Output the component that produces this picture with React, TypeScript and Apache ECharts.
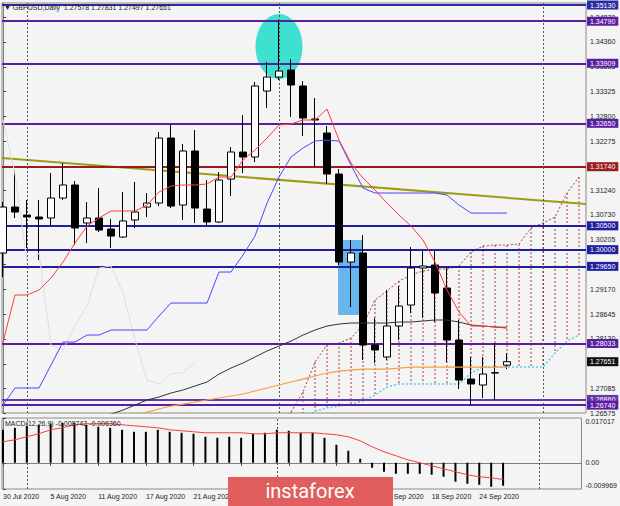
import React, { useEffect, useRef } from "react";
import * as echarts from "echarts";

const dates = [
  "30 Jul 2020", "31 Jul 2020", "3 Aug 2020", "4 Aug 2020", "5 Aug 2020", "6 Aug 2020", "7 Aug 2020",
  "10 Aug 2020", "11 Aug 2020", "12 Aug 2020", "13 Aug 2020", "14 Aug 2020", "17 Aug 2020", "18 Aug 2020",
  "19 Aug 2020", "20 Aug 2020", "21 Aug 2020", "24 Aug 2020", "25 Aug 2020", "26 Aug 2020", "27 Aug 2020",
  "28 Aug 2020", "31 Aug 2020", "1 Sep 2020", "2 Sep 2020", "3 Sep 2020", "4 Sep 2020", "7 Sep 2020",
  "8 Sep 2020", "9 Sep 2020", "10 Sep 2020", "11 Sep 2020", "14 Sep 2020", "15 Sep 2020", "16 Sep 2020",
  "17 Sep 2020", "18 Sep 2020", "21 Sep 2020", "22 Sep 2020", "23 Sep 2020", "24 Sep 2020", "25 Sep 2020",
  "28 Sep 2020",
];

const opens = [1.2993, 1.30894, 1.30726, 1.30685, 1.30664, 1.31083, 1.31356, 1.30559, 1.30664, 1.30433, 1.30265, 1.30622, 1.30894, 1.30978, 1.32341, 1.30936, 1.32069, 1.30852, 1.3058, 1.31481, 1.32048, 1.31943, 1.33327, 1.3362, 1.33767, 1.33432, 1.3274, 1.32446, 1.31586, 1.29741, 1.2993, 1.28, 1.27749, 1.28399, 1.28839, 1.29615, 1.29678, 1.29196, 1.28105, 1.27287, 1.27162, 1.27413, 1.27578];
const closes = [1.30894, 1.30789, 1.30685, 1.30643, 1.31083, 1.31356, 1.30454, 1.30664, 1.30412, 1.30286, 1.30601, 1.30789, 1.30978, 1.32341, 1.30915, 1.32069, 1.30873, 1.3058, 1.3146, 1.32048, 1.31943, 1.33432, 1.3362, 1.33746, 1.33453, 1.32761, 1.32719, 1.31586, 1.29741, 1.2993, 1.28, 1.27896, 1.28399, 1.28818, 1.29615, 1.29657, 1.29091, 1.28105, 1.27266, 1.27183, 1.27392, 1.2742, 1.27651];
const lows = [1.29426, 1.30664, 1.30034, 1.29783, 1.30496, 1.31041, 1.30097, 1.30139, 1.3037, 1.30034, 1.30244, 1.30454, 1.30685, 1.30915, 1.30873, 1.30622, 1.30559, 1.30496, 1.30559, 1.31125, 1.31607, 1.31838, 1.3297, 1.33557, 1.32782, 1.32383, 1.31733, 1.31377, 1.29678, 1.28797, 1.27686, 1.27623, 1.27686, 1.28105, 1.28671, 1.28567, 1.28483, 1.27644, 1.27078, 1.26742, 1.26889, 1.26847, 1.27497];
const highs = [1.30999, 1.3167, 1.31041, 1.31041, 1.31607, 1.31817, 1.31439, 1.30999, 1.31293, 1.30643, 1.31209, 1.31419, 1.31188, 1.32467, 1.32614, 1.32215, 1.32509, 1.3146, 1.31628, 1.32152, 1.32823, 1.33515, 1.33935, 1.34816, 1.33998, 1.33536, 1.3318, 1.32593, 1.31691, 1.30202, 1.30307, 1.28567, 1.29154, 1.29238, 1.30055, 1.29972, 1.29972, 1.29636, 1.28525, 1.27749, 1.27749, 1.28042, 1.27831];

const tenkan = [1.28063, 1.29049, 1.29049, 1.29154, 1.29405, 1.29741, 1.30139, 1.30496, 1.30664, 1.3081, 1.3081, 1.3081, 1.30936, 1.31209, 1.31335, 1.31356, 1.31356, 1.31377, 1.31523, 1.31523, 1.3188, 1.3209, 1.32341, 1.32614, 1.32635, 1.32719, 1.32719, 1.32949, 1.32299, 1.31817, 1.31502, 1.31251, 1.30978, 1.30726, 1.30496, 1.30202, 1.29741, 1.29154, 1.28692, 1.28399, 1.28399, 1.28378, 1.28378];
const kijun = [1.26742, 1.27099, 1.27099, 1.27099, 1.27581, 1.28063, 1.28063, 1.2821, 1.2821, 1.28315, 1.28315, 1.28315, 1.28315, 1.28609, 1.28881, 1.28881, 1.28881, 1.28881, 1.29531, 1.29531, 1.29888, 1.30286, 1.30978, 1.31523, 1.31943, 1.32131, 1.32278, 1.32299, 1.32278, 1.31775, 1.31293, 1.31188, 1.31188, 1.31188, 1.31188, 1.31188, 1.31188, 1.31146, 1.30936, 1.30768, 1.30768, 1.30768, 1.30768];
const smaBlack = [null, null, null, null, null, null, null, null, 1.26449, 1.26553, 1.26637, 1.26742, 1.26847, 1.2691, 1.26994, 1.27057, 1.27141, 1.27225, 1.27392, 1.27518, 1.27623, 1.27749, 1.27875, 1.27979, 1.28084, 1.2821, 1.28315, 1.28399, 1.28441, 1.28462, 1.28462, 1.28462, 1.28462, 1.28483, 1.28483, 1.28504, 1.28525, 1.28525, 1.28483, 1.2842, 1.28399, 1.28378, 1.28357];
const smaOrange = [null, null, null, null, null, null, null, null, null, null, 1.2647, 1.26532, 1.26595, 1.26658, 1.26721, 1.26763, 1.26805, 1.26847, 1.26889, 1.26931, 1.26973, 1.27036, 1.27099, 1.27162, 1.27225, 1.27287, 1.2735, 1.27413, 1.27455, 1.27476, 1.27497, 1.27497, 1.27497, 1.27518, 1.27539, 1.27539, 1.27539, 1.27539, 1.27539, 1.27539, 1.27539, 1.27539, 1.27539];

const cloudStart = 24;
const spanA = [1.26595, 1.27015, 1.27644, 1.28, 1.28042, 1.28147, 1.2842, 1.28944, 1.29133, 1.29342, 1.29468, 1.29552, 1.29594, 1.29594, 1.29657, 1.29951, 1.30076, 1.30097, 1.30097, 1.30118, 1.30454, 1.30559, 1.30685, 1.31188, 1.31523];
const spanB = [1.26323, 1.26428, 1.26616, 1.26679, 1.26721, 1.26763, 1.26826, 1.26952, 1.2712, 1.27183, 1.27183, 1.27183, 1.27183, 1.27183, 1.27183, 1.27413, 1.27539, 1.27539, 1.27539, 1.27539, 1.27539, 1.27539, 1.27833, 1.28084, 1.2821];

const macdHist = [0.01254, 0.0133, 0.01406, 0.01444, 0.01482, 0.0152, 0.0152, 0.01444, 0.01368, 0.0133, 0.01254, 0.01178, 0.01178, 0.01254, 0.01178, 0.0114, 0.01102, 0.00988, 0.0095, 0.00988, 0.0095, 0.01102, 0.0114, 0.01254, 0.01216, 0.0114, 0.0114, 0.0095, 0.00684, 0.00456, 0.00152, -0.0019, -0.00342, -0.00418, -0.00418, -0.00418, -0.00456, -0.00532, -0.00722, -0.00798, -0.00836, -0.00912, -0.008742];
const macdSignal = [0.00798, 0.00874, 0.00988, 0.01102, 0.01254, 0.0133, 0.01444, 0.01482, 0.01482, 0.01482, 0.01444, 0.01406, 0.01368, 0.0133, 0.01254, 0.01216, 0.01178, 0.0114, 0.0114, 0.0114, 0.0114, 0.01102, 0.01102, 0.0114, 0.0114, 0.0114, 0.0114, 0.01102, 0.01064, 0.00988, 0.00836, 0.00608, 0.00418, 0.00266, 0.00114, 0, -0.00114, -0.00228, -0.00342, -0.00456, -0.00532, -0.0057, -0.00636];

const priceTicks = [1.26575, 1.27085, 1.27605, 1.2813, 1.28645, 1.2917, 1.2969, 1.30205, 1.3073, 1.3124, 1.31755, 1.32275, 1.328, 1.33325, 1.33835, 1.3436, 1.3487];
const priceLabels = [1.26575, 1.27085, 1.2813, 1.28645, 1.2917, 1.30205, 1.3073, 1.3124, 1.32275, 1.328, 1.33325, 1.33835, 1.3436, 1.3487];
const macdTicks = [-0.009969, 0, 0.017017];
const dateTickIdx = [0, 4, 8, 12, 16, 20, 24, 28, 32, 36, 40];
const dateLabelIdx = [0, 4, 8, 12, 16, 32, 36, 40];
const monthSeparators = [2, 23, 45];

const levelValues = [1.3513, 1.3479, 1.33909, 1.3265, 1.3174, 1.305, 1.3, 1.2965, 1.28033, 1.2686, 1.2674];
const levelColors = ["#2a2aa4", "#5a1f9e", "#5a1f9e", "#5a1f9e", "#9b1c1c", "#1f1fa0", "#1f1fa0", "#1f1fa0", "#5a1f9e", "#6a36ac", "#5a1f9e"];
const trendLine = [1.31922, 1.30957];
const highlightPoint = [23, 1.3426];
const zoneBox = [27.92, 1.30202, 30.0, 1.28629];

const FONT = "'Liberation Sans', Arial, sans-serif";

export default function App() {
  const ref = useRef<HTMLDivElement>(null);
  useEffect(() => {
    const chart = echarts.init(ref.current!, null, { renderer: "svg" });
    const xMin = -1 / 12;
    const xMax = 48 + 7 / 12;
    const yMin = 1.26575;
    const yMax = 1.351727;
    const pts = (arr: (number | null)[], start = 0) =>
      arr.map((v, i) => (v == null ? null : [start + i, v])).filter((p) => p !== null);
    const last = closes.length - 1;

    const sepLine = {
      silent: true,
      symbol: ["none", "none"],
      precision: 5,
      label: { show: false },
      lineStyle: { color: "#555", width: 1, type: [2, 2] },
      data: monthSeparators.map((x) => ({ xAxis: x })),
    };

    const levelMarks: any[] = levelValues.map((v, k) => ({
      yAxis: v,
      lineStyle: { color: levelColors[k], width: 2, type: "solid" },
      label: {
        show: true,
        position: "end",
        formatter: v.toFixed(5),
        backgroundColor: levelColors[k],
        color: "#fff",
        fontSize: 7,
        fontFamily: FONT,
        padding: [1, 3, 1, 3],
        distance: 1,
      },
    }));
    levelMarks.push({
      yAxis: closes[last],
      lineStyle: { color: "rgba(0,0,0,0)", width: 0 },
      label: {
        show: true,
        position: "end",
        formatter: closes[last].toFixed(5),
        backgroundColor: "#111",
        color: "#fff",
        fontSize: 7,
        fontFamily: FONT,
        padding: [1, 3, 1, 3],
        distance: 1,
      },
    });

    const option: any = {
      animation: false,
      backgroundColor: "#f4f4f4",
      textStyle: { fontFamily: FONT },
      grid: [
        { left: 2, top: 3, width: 584, height: 410, show: true, borderColor: "#8a8a8a", borderWidth: 1, backgroundColor: "transparent" },
        { left: 2, top: 418, width: 584, height: 71, show: true, borderColor: "#8a8a8a", borderWidth: 1, backgroundColor: "transparent" },
      ],
      xAxis: [
        {
          type: "value", gridIndex: 0, min: xMin, max: xMax,
          axisLine: { show: false }, axisTick: { show: false }, axisLabel: { show: false }, splitLine: { show: false },
        },
        {
          type: "value", gridIndex: 1, min: xMin, max: xMax,
          axisLine: { show: true, lineStyle: { color: "#808080" } },
          axisTick: { show: true, customValues: dateTickIdx, length: 3, lineStyle: { color: "#444" } },
          axisLabel: {
            show: true, customValues: dateLabelIdx, formatter: (v: number) => dates[Math.round(v)],
            align: "left", fontSize: 7, color: "#222", margin: 4, fontFamily: FONT,
          },
          splitLine: { show: false },
        },
      ],
      yAxis: [
        {
          type: "value", gridIndex: 0, position: "right", min: yMin, max: yMax,
          axisLine: { show: true, lineStyle: { color: "#808080" } },
          axisTick: { show: true, customValues: priceTicks, length: 3, lineStyle: { color: "#444" } },
          axisLabel: { show: true, customValues: priceLabels, formatter: (v: number) => v.toFixed(5), fontSize: 7, color: "#222", margin: 4, fontFamily: FONT },
          splitLine: { show: false },
        },
        {
          type: "value", gridIndex: 1, position: "right", min: -0.009969, max: 0.017017,
          axisLine: { show: true, lineStyle: { color: "#808080" } },
          axisTick: { show: true, customValues: macdTicks, length: 3, lineStyle: { color: "#444" } },
          axisLabel: {
            show: true, customValues: macdTicks,
            formatter: (v: number) => (v === 0 ? "0.00" : v.toFixed(6)),
            fontSize: 7, color: "#222", margin: 4, fontFamily: FONT,
            verticalAlignMinLabel: "bottom", verticalAlignMaxLabel: "top",
          },
          splitLine: { show: false },
        },
      ],
      graphic: [
        {
          type: "text", left: 4, top: 4, z: 50,
          style: {
            text: `▼ GBPUSD,Daily  ${opens[last].toFixed(5)} ${highs[last].toFixed(5)} ${lows[last].toFixed(5)} ${closes[last].toFixed(5)}`,
            fontSize: 7, fill: "#222", fontFamily: FONT,
          },
        },
        {
          type: "text", left: 5, top: 420, z: 50,
          style: {
            text: `MACD(12,26,9) ${macdHist[last].toFixed(6)} ${macdSignal[last].toFixed(6)}`,
            fontSize: 7, fill: "#222", fontFamily: FONT,
          },
        },
        {
          type: "group", z: 100,
          children: [
            { type: "rect", shape: { x: 228, y: 477, width: 165, height: 29 }, style: { fill: "#e15e5e" }, z: 100 },
            {
              type: "text", x: 310, y: 491, z: 101,
              style: { text: "instaforex", fontSize: 20, fill: "#ffffff", fontFamily: "Roboto, sans-serif", align: "center", verticalAlign: "middle" },
            },
          ],
        },
      ],
      series: [
        {
          type: "scatter", xAxisIndex: 0, yAxisIndex: 0, data: [highlightPoint], symbol: "circle",
          symbolSize: [47, 65], itemStyle: { color: "#3ee0cf", opacity: 1 }, z: 1, silent: true,
        },
        {
          type: "line", xAxisIndex: 0, yAxisIndex: 0, data: [], z: 1, silent: true,
          markArea: {
            silent: true, itemStyle: { color: "#66b6ec", opacity: 1 },
            data: [[{ coord: [zoneBox[0], zoneBox[1]] }, { coord: [zoneBox[2], zoneBox[3]] }]],
          },
        },
        {
          type: "custom", xAxisIndex: 0, yAxisIndex: 0, z: 2, silent: true,
          data: spanA.map((a, k) => [cloudStart + k, a, spanB[k]]),
          encode: { x: 0, y: [1, 2] },
          renderItem: (params: any, api: any) => {
            const x = api.value(0);
            const a = api.value(1);
            const b = api.value(2);
            const hi = Math.min(Math.max(a, b), yMax);
            const lo = Math.max(Math.min(a, b), yMin);
            const p1 = api.coord([x, hi]);
            const p2 = api.coord([x, lo]);
            return {
              type: "line",
              shape: { x1: p1[0], y1: p1[1], x2: p2[0], y2: p2[1] },
              style: { stroke: "#a8403c", lineWidth: 1, lineDash: [2, 2] },
            };
          },
        },
        {
          type: "line", xAxisIndex: 0, yAxisIndex: 0, data: pts(spanA, cloudStart), symbol: "none", z: 2, silent: true,
          lineStyle: { color: "#a8403c", width: 1, type: [2, 2] },
        },
        {
          type: "line", xAxisIndex: 0, yAxisIndex: 0, data: pts(spanB, cloudStart), symbol: "none", z: 2, silent: true,
          lineStyle: { color: "#5cc9ef", width: 1.5, type: [2, 2] },
        },
        {
          type: "line", xAxisIndex: 0, yAxisIndex: 0, data: [], z: 3, silent: true,
          markLine: { silent: true, symbol: ["none", "none"], precision: 5, data: levelMarks },
        },
        {
          type: "line", xAxisIndex: 0, yAxisIndex: 0, data: [[xMin, trendLine[0]], [xMax, trendLine[1]]],
          symbol: "none", z: 3, silent: true, lineStyle: { color: "#9c9c14", width: 2 },
        },
        {
          type: "candlestick", xAxisIndex: 0, yAxisIndex: 0, z: 5, silent: true, barWidth: 7,
          data: dates.map((_, i) => [i, opens[i], closes[i], lows[i], highs[i]]),
          encode: { x: 0, y: [1, 2, 3, 4] },
          itemStyle: { color: "#ffffff", color0: "#000000", borderColor: "#000000", borderColor0: "#000000", borderWidth: 1 },
          markLine: sepLine,
        },
        {
          type: "line", xAxisIndex: 0, yAxisIndex: 0, data: pts(closes.slice(26)), symbol: "none", z: 6, silent: true,
          lineStyle: { color: "#dedede", width: 1 },
        },
        {
          type: "line", xAxisIndex: 0, yAxisIndex: 0, data: pts(smaBlack), symbol: "none", z: 6, silent: true,
          lineStyle: { color: "#333333", width: 1 },
        },
        {
          type: "line", xAxisIndex: 0, yAxisIndex: 0, data: pts(smaOrange), symbol: "none", z: 6, silent: true,
          lineStyle: { color: "#f5a040", width: 1.2 },
        },
        {
          type: "line", xAxisIndex: 0, yAxisIndex: 0, data: pts(kijun), symbol: "none", z: 6, silent: true,
          lineStyle: { color: "#4848ff", width: 1 },
        },
        {
          type: "line", xAxisIndex: 0, yAxisIndex: 0, data: pts(tenkan), symbol: "none", z: 6, silent: true,
          lineStyle: { color: "#ff3c3c", width: 1 },
        },
        {
          type: "bar", xAxisIndex: 1, yAxisIndex: 1, data: pts(macdHist), barWidth: 2, z: 5, silent: true,
          itemStyle: { color: "#000000" },
          markLine: sepLine,
        },
        {
          type: "line", xAxisIndex: 1, yAxisIndex: 1, data: pts(macdSignal), symbol: "none", z: 6, silent: true,
          lineStyle: { color: "#ff3c3c", width: 1 },
        },
      ],
    };
    chart.setOption(option);
    return () => chart.dispose();
  }, []);
  return <div ref={ref} style={{ position: "fixed", left: 0, top: 0, width: 620, height: 506 }} />;
}
